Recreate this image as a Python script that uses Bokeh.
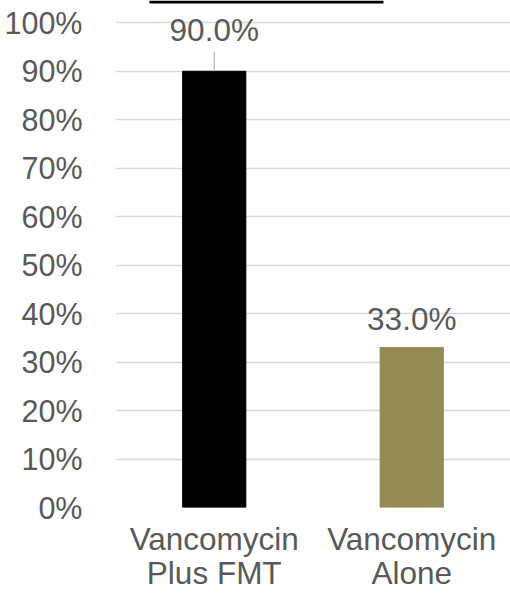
from bokeh.plotting import figure
from bokeh.models import FactorRange, Range1d, NumeralTickFormatter, BoxAnnotation, ColumnDataSource
from bokeh.core.properties import value
from bokeh.embed import file_html
from bokeh.resources import INLINE

# Cure rates by treatment arm
categories = ["Vancomycin\nPlus FMT", "Vancomycin\nAlone"]
cure_rates = [90.0, 33.0]
bar_colors = ["#000000", "#948A54"]
y_ticks = list(range(0, 101, 10))

FONT = "Liberation Sans"
TEXT = "#595959"
Y_TOP = 104.6

p = figure(
    width=510, height=595,
    x_range=FactorRange(*categories, range_padding=0),
    y_range=Range1d(0, Y_TOP),
    output_backend="svg", toolbar_location=None,
    min_border_left=115, min_border_right=0, min_border_top=0, min_border_bottom=88,
)
p.outline_line_color = None
p.background_fill_color = "white"
p.border_fill_color = "white"

src = ColumnDataSource(dict(
    x=categories,
    y=cure_rates,
    color=bar_colors,
    label=[f"{v:.1f}%" for v in cure_rates],
    yoff=[-41, -29],
))
p.vbar(x="x", top="y", width=0.32, color="color", source=src)

# value labels above the bars
p.text(x="x", y="y", text="label", y_offset="yoff", source=src,
       text_font=value(FONT), text_font_size="31.5px", text_color=TEXT,
       text_align="center", text_baseline="middle")

# leader line from the first label down to its bar
p.segment(x0=[categories[0]], y0=[cure_rates[0]], x1=[categories[0]], y1=[cure_rates[0] + 4.1],
          line_color="#a6a6a6", line_width=1)

# y axis
p.yaxis.ticker = y_ticks
p.yaxis.formatter = NumeralTickFormatter(format="0")
p.yaxis.major_label_overrides = {t: f"{t}%" for t in y_ticks}
p.yaxis.axis_line_color = None
p.yaxis.major_tick_line_color = None
p.yaxis.minor_tick_line_color = None
p.yaxis.major_label_standoff = 27
p.yaxis.major_label_text_font = FONT
p.yaxis.major_label_text_font_size = "30.5px"
p.yaxis.major_label_text_color = TEXT

# x axis
p.xaxis.axis_line_color = None
p.xaxis.major_tick_line_color = None
p.xaxis.minor_tick_line_color = None
p.xaxis.major_label_standoff = 7
p.xaxis.major_label_text_font = FONT
p.xaxis.major_label_text_font_size = "31.5px"
p.xaxis.major_label_text_color = TEXT
p.xaxis.major_label_text_line_height = 0.97

p.xgrid.grid_line_color = None
p.ygrid.grid_line_color = "#d9d9d9"
p.ygrid.grid_line_width = 1.5

# lower edge of the title box peeking in at the top
p.add_layout(BoxAnnotation(left=0.172, right=1.357, top=Y_TOP, bottom=Y_TOP - 0.62,
                           fill_color="black", fill_alpha=1, line_color=None))

open("out.html", "w").write(file_html(p, INLINE))
